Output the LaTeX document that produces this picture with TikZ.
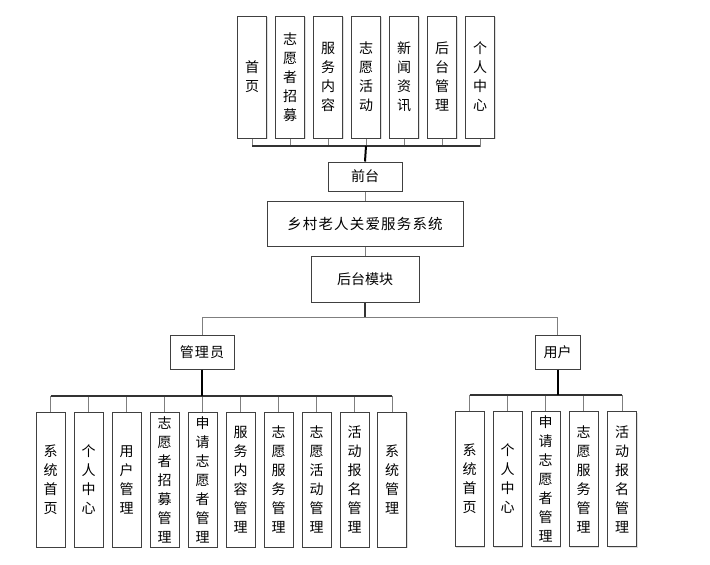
\documentclass[tikz,border=0pt]{standalone}
\usepackage{fontspec}
\setmainfont{Noto Sans CJK SC}
\newfontfamily\widecjk[LetterSpace=8]{Noto Sans CJK SC}
\usetikzlibrary{shadows}
\definecolor{boxline}{HTML}{404040}
\definecolor{conn}{HTML}{7F7F7F}
\begin{document}
\begin{tikzpicture}[x=1pt,y=-1pt,
  box/.style={draw=boxline,line width=1pt,fill=white,inner sep=0pt,
    drop shadow={shadow xshift=1.2pt,shadow yshift=-1.2pt,opacity=0.25,fill=gray},
    font=\fontsize{14}{19}\selectfont,align=center},
  vbox/.style={box,minimum width=29,minimum height=122},
  bbox/.style={box,minimum width=29,minimum height=135},
  conline/.style={draw=conn,line width=1pt},
  trunk/.style={draw=black,line width=2pt},
  darkline/.style={draw=black!80,line width=1.2pt}]
\useasboundingbox (0,0) rectangle (710,565);
% top modules
\node[vbox] (t1) at (252,77) {首\\页};
\node[vbox] (t2) at (290,77) {志\\愿\\者\\招\\募};
\node[vbox] (t3) at (328,77) {服\\务\\内\\容};
\node[vbox] (t4) at (366,77) {志\\愿\\活\\动};
\node[vbox] (t5) at (404,77) {新\\闻\\资\\讯};
\node[vbox] (t6) at (442,77) {后\\台\\管\\理};
\node[vbox] (t7) at (480,77) {个\\人\\中\\心};
\coordinate (topbus) at (366,146);
\foreach \i in {1,...,7} \draw[conline] (t\i.south) |- (topbus);
\draw[darkline] (t1.south |- topbus) -- (t7.south |- topbus);
% centre column
\node[box,minimum width=74,minimum height=29] (qt) at (365,176.5) {前台};
\node[box,minimum width=196,minimum height=45,font=\widecjk\fontsize{14.5}{19}\selectfont] (sys) at (365,223.5) {乡村老人关爱服务系统};
\node[box,minimum width=108,minimum height=46] (hou) at (365,279) {后台模块};
\draw[trunk] (topbus) -- (qt.north);
\draw[conline] (qt.south) -- (sys.north);
\draw[conline] (sys.south) -- (hou.north);
\coordinate (midbus) at (365,317);
\draw[darkline] (hou.south) -- (midbus);
% roles
\node[box,minimum width=64,minimum height=34,font=\widecjk\fontsize{14}{19}\selectfont] (admin) at (202,352) {管理员};
\node[box,minimum width=45,minimum height=34] (user) at (557.5,352) {用户};
\draw[conline] (midbus) -| (admin.north);
\draw[conline] (midbus) -| (user.north);
% admin children
\node[bbox] (a1) at (50.5,479.5) {系\\统\\首\\页};
\node[bbox] (a2) at (88.5,479.5) {个\\人\\中\\心};
\node[bbox] (a3) at (126.5,479.5) {用\\户\\管\\理};
\node[bbox] (a4) at (164.5,479.5) {志\\愿\\者\\招\\募\\管\\理};
\node[bbox] (a5) at (202.5,479.5) {申\\请\\志\\愿\\者\\管\\理};
\node[bbox] (a6) at (240.5,479.5) {服\\务\\内\\容\\管\\理};
\node[bbox] (a7) at (278.5,479.5) {志\\愿\\服\\务\\管\\理};
\node[bbox] (a8) at (316.5,479.5) {志\\愿\\活\\动\\管\\理};
\node[bbox] (a9) at (354.5,479.5) {活\\动\\报\\名\\管\\理};
\node[bbox] (a10) at (392,479.5) {系\\统\\管\\理};
\coordinate (abus) at (202.5,396);
\foreach \i in {1,...,10} \draw[conline] (a\i.north) |- (abus);
\draw[darkline] (a1.north |- abus) -- (a10.north |- abus);
\draw[trunk] (admin.south) -- (admin.south |- abus);
% user children
\node[bbox] (u1) at (469.5,479) {系\\统\\首\\页};
\node[bbox] (u2) at (507.5,479) {个\\人\\中\\心};
\node[bbox] (u3) at (545.5,479) {申\\请\\志\\愿\\者\\管\\理};
\node[bbox] (u4) at (583.5,479) {志\\愿\\服\\务\\管\\理};
\node[bbox] (u5) at (622,479) {活\\动\\报\\名\\管\\理};
\coordinate (ubus) at (557.5,395);
\foreach \i in {1,...,5} \draw[conline] (u\i.north) |- (ubus);
\draw[darkline] (u1.north |- ubus) -- (u5.north |- ubus);
\draw[trunk] (user.south) -- (ubus);
\end{tikzpicture}
\end{document}
